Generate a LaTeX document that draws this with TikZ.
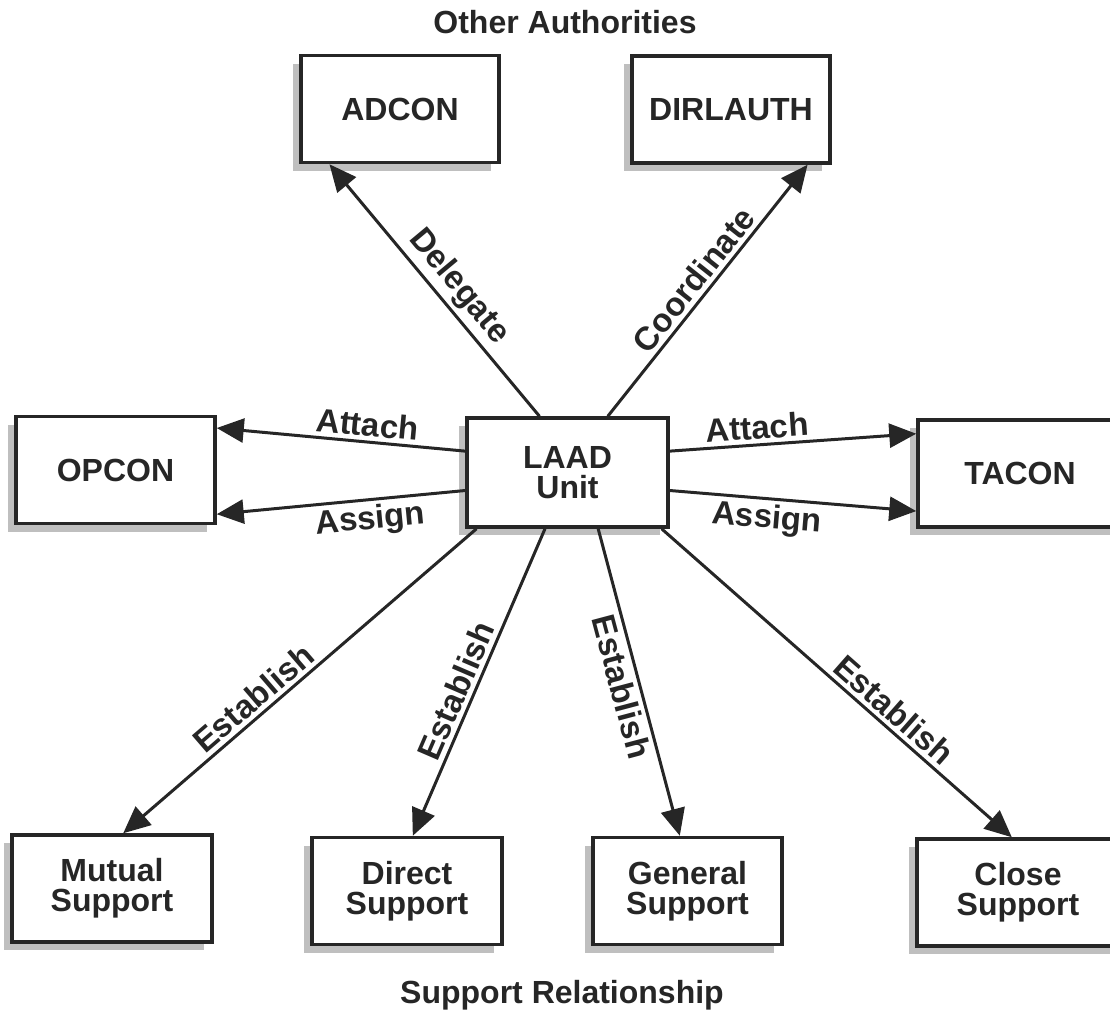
\documentclass[tikz,border=0pt]{standalone}
\usepackage{fontspec}
\setmainfont{Liberation Sans}
\usetikzlibrary{arrows.meta,calc,shadows}
\begin{document}
\begin{tikzpicture}[x=1pt,y=-1pt,
  box/.style={draw=black!85, line width=3.5pt, fill=white, inner sep=0pt,
    font=\bfseries\fontsize{32}{30}\selectfont, align=center, text=black!85,
    minimum height=107pt,
    drop shadow={shadow xshift=-8pt, shadow yshift=-8pt, fill=black!25, opacity=1}},
  ttl/.style={font=\bfseries\fontsize{32}{32}\selectfont, text=black!85, inner sep=0pt},
  arr/.style={-{Triangle[length=27pt,width=24pt]}, line width=3pt, draw=black!85},
  lbl/.style={font=\bfseries\fontsize{33}{33}\selectfont, sloped, text=black!85, inner sep=4pt}]
\useasboundingbox (0,0) rectangle (1110,1015);
\clip (0,0) rectangle (1110,1015);

\node[ttl] (t1) at (565,22) {Other Authorities};
\node[ttl] (t2) at (562,995) {Support Relationship};

\node[box, minimum width=198pt] (adcon) at (400,109) {ADCON};
\node[box, minimum width=198pt] (dirl) at (731,109.5) {DIRLAUTH};
\node[box, minimum width=199pt] (opcon) at (115.5,470) {OPCON};
\node[box, minimum width=201pt, minimum height=109pt] (laad) at (567.5,472.5) {LAAD\\Unit};
\node[box, minimum width=204pt] (tacon) at (1020,473.5) {TACON};
\node[box, minimum width=200pt] (mutual) at (112,888.5) {Mutual\\Support};
\node[box, minimum width=190pt] (direct) at (407,891) {Direct\\Support};
\node[box, minimum width=189pt] (general) at (687.5,891) {General\\Support};
\node[box, minimum width=202pt] (close) at (1018,892.5) {Close\\Support};

% top
\draw[arr] ($(laad.north west)!0.363!(laad.north east)$) --
  node[lbl, above, pos=0.46] {Delegate} ($(adcon.south west)!0.15!(adcon.south east)$);
\draw[arr] ($(laad.north west)!0.697!(laad.north east)$) --
  node[lbl, above, pos=0.5] {Coordinate} ($(dirl.south west)!0.88!(dirl.south east)$);
% left
\draw[arr] ($(laad.north west)!0.31!(laad.south west)$) --
  node[lbl, above, pos=0.4] {Attach} ($(opcon.north east)!0.12!(opcon.south east)$);
\draw[arr] ($(laad.north west)!0.66!(laad.south west)$) --
  node[lbl, below, pos=0.39] {Assign} ($(opcon.north east)!0.9!(opcon.south east)$);
% right
\draw[arr] ($(laad.north east)!0.31!(laad.south east)$) --
  node[lbl, above, pos=0.36] {Attach} ($(tacon.north west)!0.14!(tacon.south west)$);
\draw[arr] ($(laad.north east)!0.66!(laad.south east)$) --
  node[lbl, below, pos=0.4] {Assign} ($(tacon.north west)!0.84!(tacon.south west)$);
% bottom
\draw[arr] ($(laad.south west)!0.055!(laad.south east)$) --
  node[lbl, above, pos=0.6] {Establish} ($(mutual.north west)!0.555!(mutual.north east)$);
\draw[arr] ($(laad.south west)!0.39!(laad.south east)$) --
  node[lbl, above, pos=0.55] {Establish} ($(direct.north west)!0.53!(direct.north east)$);
\draw[arr] ($(laad.south west)!0.65!(laad.south east)$) --
  node[lbl, below, pos=0.5] {Establish} ($(general.north west)!0.46!(general.north east)$);
\draw[arr] ($(laad.south west)!0.96!(laad.south east)$) --
  node[lbl, above, pos=0.63] {Establish} ($(close.north west)!0.47!(close.north east)$);
\end{tikzpicture}
\end{document}
